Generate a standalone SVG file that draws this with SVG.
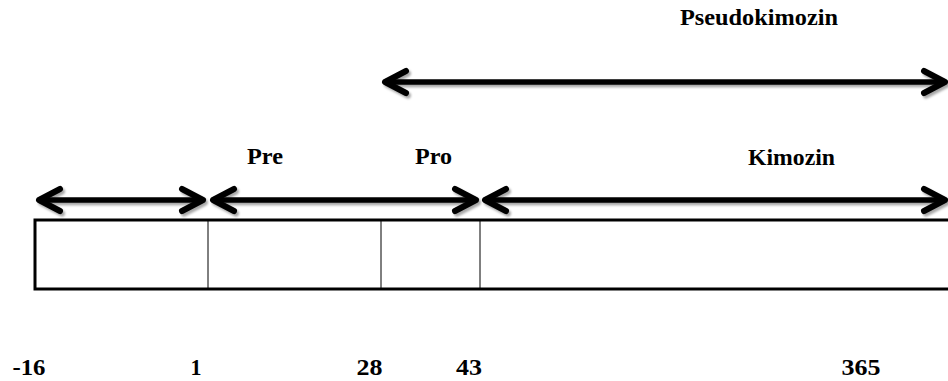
<svg xmlns="http://www.w3.org/2000/svg" width="948" height="381" viewBox="0 0 948 381">
  <style>
    .lbl { font-family: "Liberation Serif", "Times New Roman", serif; font-weight: bold; font-size: 23px; fill: #000; }
    .shaft { stroke: #000; stroke-width: 5.5; fill: none; marker-start: url(#head); marker-end: url(#head); }
    .box { fill: #fff; stroke: #000; stroke-width: 3; }
    .div { stroke: #000; stroke-width: 1; }
  </style>
  <defs>
    <marker id="head" viewBox="0 0 30 30" refX="24" refY="15" markerWidth="30" markerHeight="30" markerUnits="userSpaceOnUse" orient="auto-start-reverse" overflow="visible">
      <path d="M3,4 L24,15 L3,26" fill="none" stroke="#000" stroke-width="6" stroke-linecap="round" stroke-linejoin="round"/>
    </marker>
    <filter id="shadow" x="-5%" y="-50%" width="110%" height="200%">
      <feDropShadow dx="2" dy="2.5" stdDeviation="1" flood-color="#000" flood-opacity="0.35"/>
    </filter>
  </defs>

  <rect width="948" height="381" fill="#fff"/>

  <!-- sequence bar with segment boundaries -->
  <g id="bar">
    <rect class="box" x="35" y="220" width="930" height="69"/>
    <line class="div" x1="208" y1="220" x2="208" y2="289"/>
    <line class="div" x1="381" y1="220" x2="381" y2="289"/>
    <line class="div" x1="480" y1="220" x2="480" y2="289"/>
  </g>

  <!-- span arrows -->
  <g id="connectors" filter="url(#shadow)">
    <line class="shaft" x1="39" y1="200" x2="203" y2="200"/>
    <line class="shaft" x1="213" y1="200" x2="476" y2="200"/>
    <line class="shaft" x1="485" y1="200" x2="945" y2="200"/>
    <line class="shaft" x1="385" y1="82" x2="945" y2="82"/>
  </g>

  <g id="label-pseudokimozin">
    <text class="lbl" x="680" y="25" textLength="158" lengthAdjust="spacingAndGlyphs">Pseudokimozin</text>
  </g>
  <g id="label-pre">
    <text class="lbl" x="247" y="164" textLength="36" lengthAdjust="spacingAndGlyphs">Pre</text>
  </g>
  <g id="label-pro">
    <text class="lbl" x="415" y="164" textLength="37" lengthAdjust="spacingAndGlyphs">Pro</text>
  </g>
  <g id="label-kimozin">
    <text class="lbl" x="748" y="165" textLength="87" lengthAdjust="spacingAndGlyphs">Kimozin</text>
  </g>

  <!-- residue positions -->
  <g id="positions">
    <text class="lbl" x="29" y="375" text-anchor="middle" textLength="33" lengthAdjust="spacingAndGlyphs">-16</text>
    <text class="lbl" x="196" y="375" text-anchor="middle" textLength="11" lengthAdjust="spacingAndGlyphs">1</text>
    <text class="lbl" x="369.5" y="375" text-anchor="middle" textLength="26" lengthAdjust="spacingAndGlyphs">28</text>
    <text class="lbl" x="469" y="375" text-anchor="middle" textLength="26" lengthAdjust="spacingAndGlyphs">43</text>
    <text class="lbl" x="861" y="375" text-anchor="middle" textLength="39" lengthAdjust="spacingAndGlyphs">365</text>
  </g>
</svg>
